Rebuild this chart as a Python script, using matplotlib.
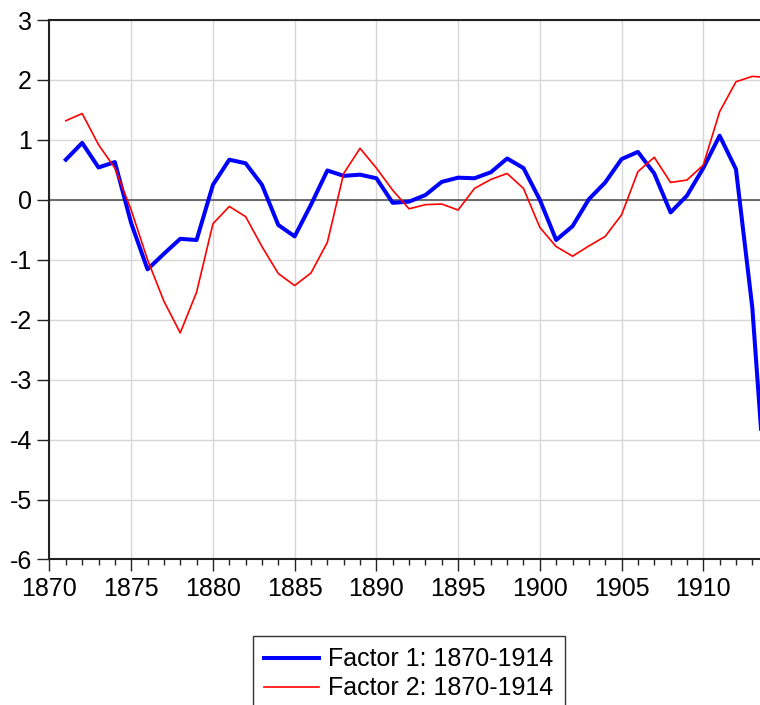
import numpy as np
import matplotlib.pyplot as plt

plt.rcParams['font.family'] = ['Liberation Sans', 'DejaVu Sans']
plt.rcParams['axes.unicode_minus'] = False

# Data
years = list(range(1871, 1915))
factor1 = [0.67, 0.95, 0.54, 0.63, -0.39, -1.16, -0.90, -0.65, -0.67, 0.25,
           0.67, 0.61, 0.25, -0.42, -0.61, -0.08, 0.49, 0.40, 0.42, 0.36,
           -0.05, -0.03, 0.08, 0.30, 0.37, 0.36, 0.46, 0.69, 0.53, 0.00,
           -0.67, -0.44, 0.01, 0.29, 0.68, 0.80, 0.44, -0.21, 0.07, 0.53,
           1.07, 0.51, -1.80, -5.60]
factor2 = [1.32, 1.44, 0.92, 0.53, -0.17, -1.00, -1.69, -2.22, -1.54, -0.40,
           -0.11, -0.28, -0.78, -1.23, -1.43, -1.22, -0.71, 0.44, 0.86, 0.53,
           0.16, -0.15, -0.08, -0.07, -0.17, 0.19, 0.34, 0.44, 0.19, -0.46,
           -0.78, -0.94, -0.77, -0.61, -0.25, 0.47, 0.71, 0.29, 0.33, 0.58,
           1.47, 1.97, 2.06, 2.04]
labels = ['Factor 1: 1870-1914', 'Factor 2: 1870-1914']

fig = plt.figure(figsize=(7.6, 7.05), dpi=100)
ax = fig.add_axes([0.0651, 0.2064, 0.9463, 0.7652])

ax.plot(years, factor1, color='#0000ff', lw=2.9, label=labels[0], zorder=3)
ax.plot(years, factor2, color='#ff0000', lw=1.2, label=labels[1], zorder=3)
ax.axhline(0, color='#555555', lw=1.2, zorder=2)

ax.set_xlim(1870, 1914)
ax.set_ylim(-6, 3)
ax.set_xticks(range(1870, 1915, 5))
ax.set_xticks(range(1870, 1915), minor=True)
ax.set_yticks(range(-6, 4))
ax.grid(True, which='major', color='#d6d6d6', lw=1.0, zorder=0)

ax.tick_params(axis='both', which='major', direction='out', length=8.5,
               width=1.0, labelsize=18, color='#222222')
ax.tick_params(axis='x', which='minor', direction='out', length=4.5,
               width=1.0, color='#222222')
ax.tick_params(axis='x', which='major', pad=4)
ax.tick_params(axis='y', which='major', pad=4)
for side in ['left', 'top', 'bottom', 'right']:
    ax.spines[side].set_linewidth(1.5)
    ax.spines[side].set_color('#222222')

leg = fig.legend(loc='upper center', bbox_to_anchor=(409 / 760, 1 - 636 / 705),
                 fontsize=18, frameon=True, fancybox=False, edgecolor='black',
                 handlelength=2.2, handletextpad=0.35, borderpad=0.45,
                 labelspacing=0.2, borderaxespad=0)
leg.get_frame().set_linewidth(1.0)

fig.savefig('out.png', dpi=100)
